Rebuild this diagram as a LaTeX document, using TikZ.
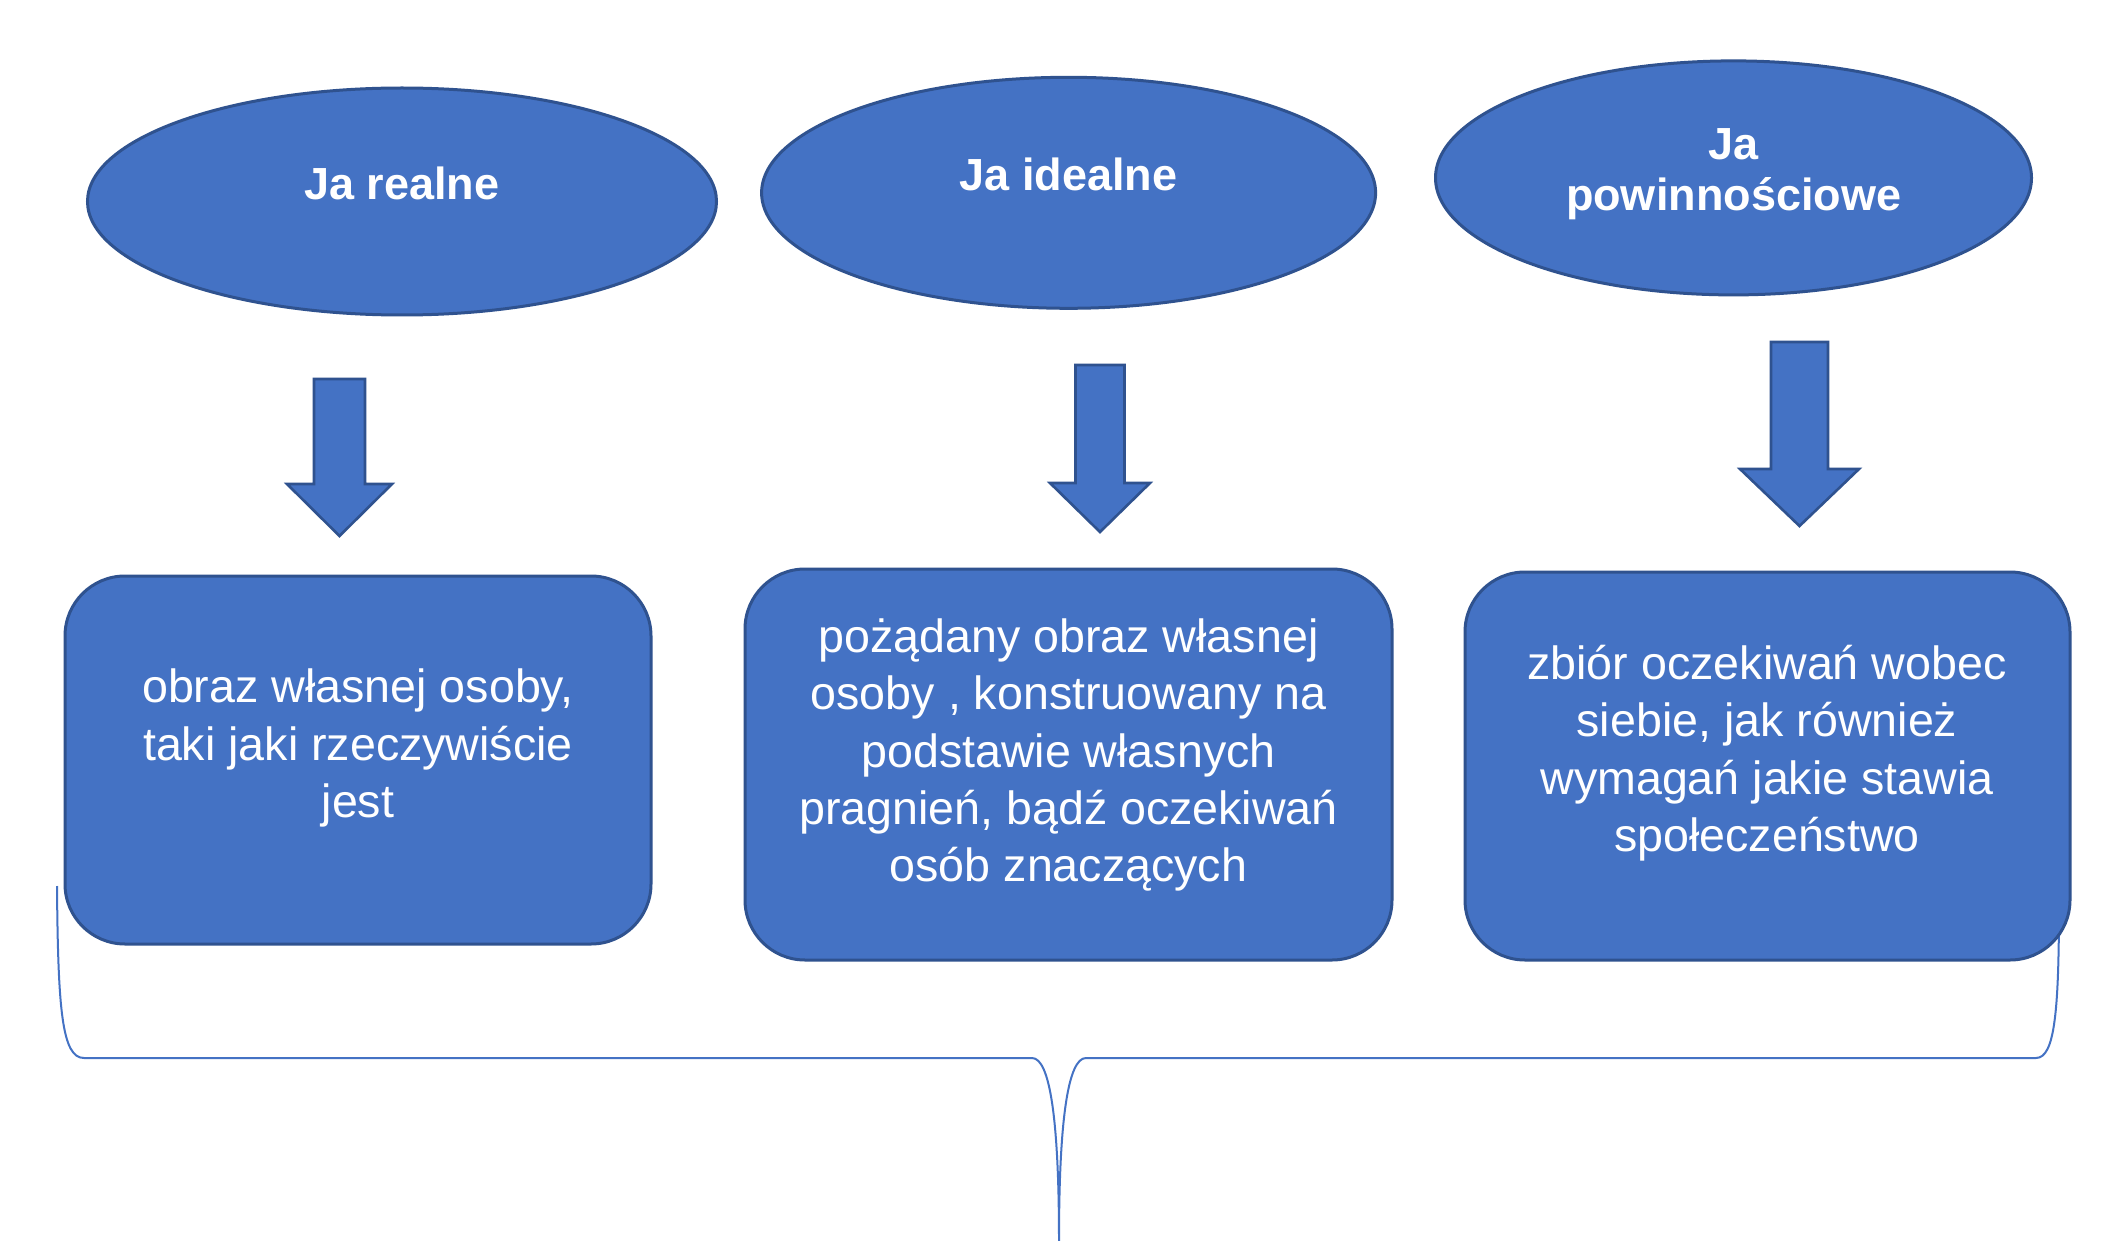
\documentclass[tikz,border=0pt]{standalone}
\usepackage{fontspec}
\setmainfont{Liberation Sans}
\usetikzlibrary{shapes.geometric}
\definecolor{fillblue}{RGB}{68,114,196}
\definecolor{edgeblue}{RGB}{47,82,143}
\begin{document}
\begin{tikzpicture}[x=0.5pt,y=-0.5pt,
  oval/.style={ellipse,draw=edgeblue,fill=fillblue,line width=1.5pt,inner sep=0pt},
  card/.style={rectangle,rounded corners=30pt,draw=edgeblue,fill=fillblue,line width=1.5pt,inner sep=0pt},
  title/.style={text=white,font=\fontsize{22.5}{25.5}\selectfont\bfseries,align=center},
  body/.style={text=white,font=\fontsize{23.3}{28.7}\selectfont,align=center},
  blockarrow/.style={draw=edgeblue,fill=fillblue,line width=1.3pt,line join=miter},
  bracket/.style={draw=fillblue,line width=1pt}]
\useasboundingbox[fill=white] (0,0) rectangle (2121,1241);

% brace (drawn first, partly hidden by the boxes)
\coordinate (brL) at (57,886);
\coordinate (brR) at (2059,900);
\coordinate (brTip) at (1059,1241);
\draw[bracket] (brL) .. controls (58,1010) and (62,1058) .. (84,1058)
  -- (1032,1058) .. controls (1050,1058) and (1059,1120) .. (brTip)
  .. controls (1059,1120) and (1068,1058) .. (1086,1058)
  -- (2036,1058) .. controls (2055,1058) and (2059,1010) .. (brR);

% ellipses
\node[oval,minimum width=314.5pt,minimum height=113.5pt] (e1) at (402,201.5) {};
\node[oval,minimum width=307pt,minimum height=115.5pt] (e2) at (1068.6,192.8) {};
\node[oval,minimum width=298pt,minimum height=117pt] (e3) at (1733.5,177.9) {};
\node[title] (te1) at (402,183) {Ja realne};
\node[title] (te2) at (1068.6,174.5) {Ja idealne};
\node[title] (te3) at (1733.5,174) {Ja\\powinnościowe};

% block arrows
\draw[blockarrow] (314,379) -- (365,379) -- (365,484) -- (392,484) -- (339.5,536)
  -- (287,484) -- (314,484) -- cycle;
\draw[blockarrow] (1075.5,365) -- (1124.5,365) -- (1124.5,483) -- (1150,483) -- (1100,532)
  -- (1050,483) -- (1075.5,483) -- cycle;
\draw[blockarrow] (1771,342) -- (1828,342) -- (1828,469) -- (1859,469) -- (1799.5,526)
  -- (1740,469) -- (1771,469) -- cycle;

% boxes
\node[card,minimum width=293pt,minimum height=184pt] (b1) at (358,760) {};
\node[card,minimum width=323.5pt,minimum height=195.5pt] (b2) at (1068.5,764.5) {};
\node[card,minimum width=302.5pt,minimum height=194pt] (b3) at (1767.5,766) {};
\node[body] (tb1) at (358,748) {obraz własnej osoby,\\taki jaki rzeczywiście\\jest};
\node[body] (tb2) at (1068.5,755) {pożądany obraz własnej\\osoby , konstruowany na\\podstawie własnych\\pragnień, bądź oczekiwań\\osób znaczących};
\node[body] (tb3) at (1767,753) {zbiór oczekiwań wobec\\siebie, jak również\\wymagań jakie stawia\\społeczeństwo};
\end{tikzpicture}
\end{document}
